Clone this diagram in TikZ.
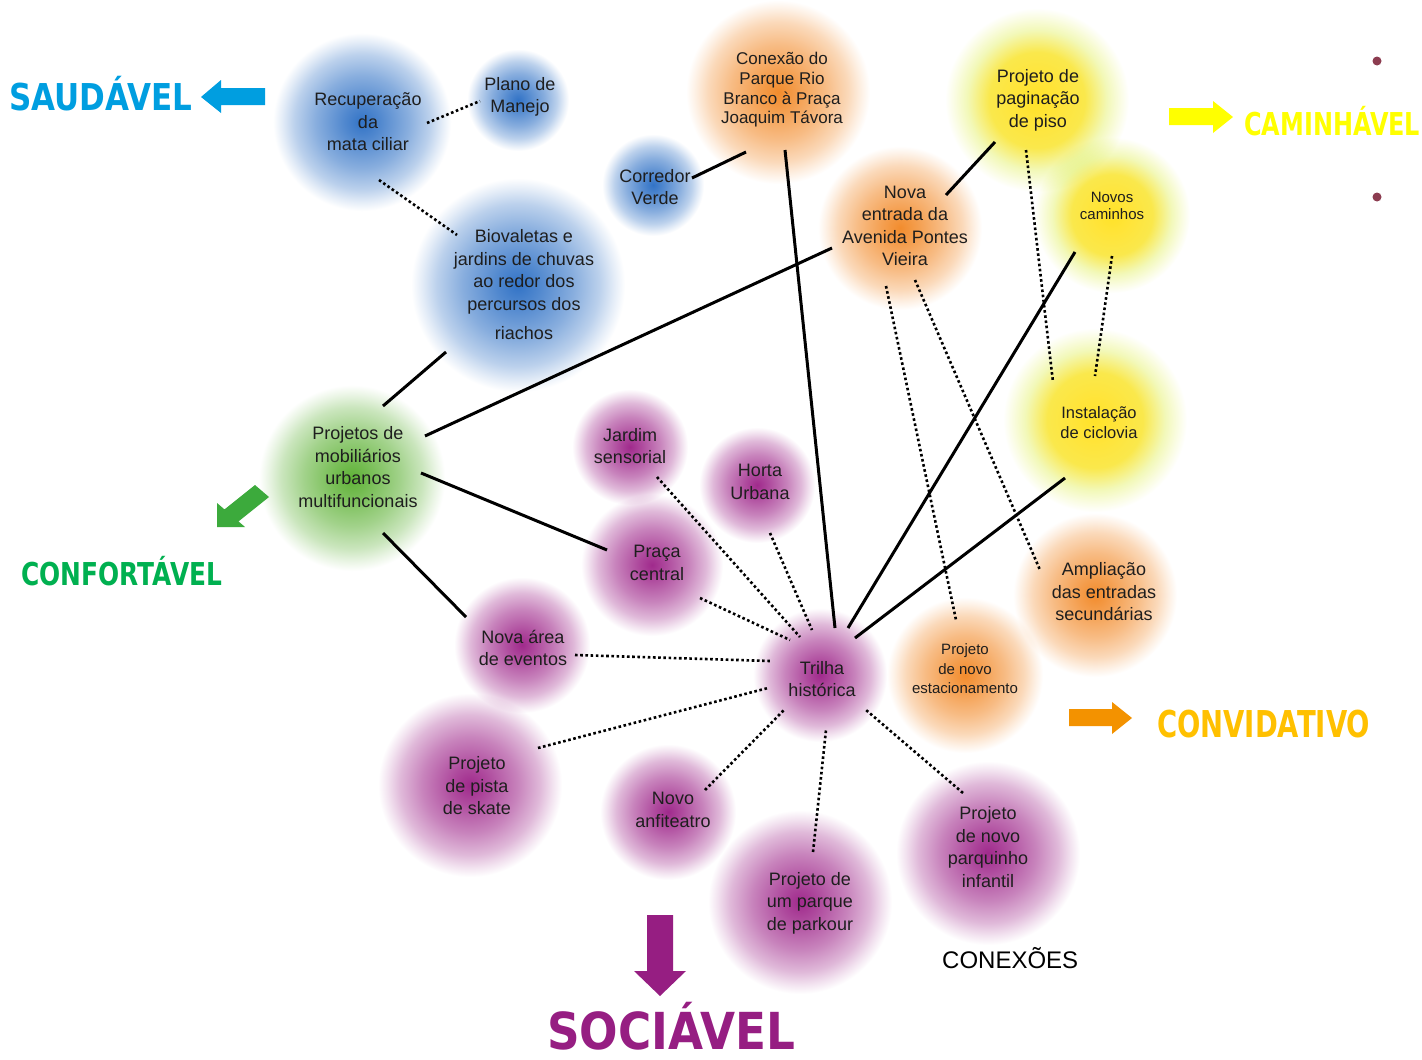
\documentclass[tikz,border=0pt]{standalone}
\usepackage{fontspec}
\usepackage{graphicx}
\setmainfont{Liberation Sans}
\newfontfamily\titlefont{DejaVu Sans}
\usetikzlibrary{calc}
\definecolor{cB}{RGB}{50,115,198}
\definecolor{cG}{RGB}{95,178,55}
\definecolor{cO}{RGB}{242,140,45}
\definecolor{cY}{RGB}{255,226,40}
\definecolor{cYe}{RGB}{238,246,160}
\definecolor{cP}{RGB}{160,42,140}
\definecolor{txt}{RGB}{30,30,30}
\definecolor{tBlue}{RGB}{0,158,224}
\definecolor{tYellow}{RGB}{255,255,0}
\definecolor{tGreen}{RGB}{0,176,80}
\definecolor{aGreen}{RGB}{60,170,60}
\definecolor{tOrange}{RGB}{255,192,0}
\definecolor{aOrange}{RGB}{243,146,0}
\definecolor{tPurple}{RGB}{150,30,130}
\definecolor{dotc}{RGB}{140,60,80}
\pgfdeclareradialshading{blobB}{\pgfpoint{0bp}{0bp}}{color(0bp)=(cB); color(5bp)=(cB!85!white); color(13bp)=(cB!58!white); color(19bp)=(cB!33!white); color(22.5bp)=(cB!13!white); color(25bp)=(white); color(50bp)=(white)}
\pgfdeclareradialshading{blobG}{\pgfpoint{0bp}{0bp}}{color(0bp)=(cG); color(5bp)=(cG!85!white); color(13bp)=(cG!58!white); color(19bp)=(cG!33!white); color(22.5bp)=(cG!13!white); color(25bp)=(white); color(50bp)=(white)}
\pgfdeclareradialshading{blobO}{\pgfpoint{0bp}{0bp}}{color(0bp)=(cO); color(5bp)=(cO!85!white); color(13bp)=(cO!58!white); color(19bp)=(cO!33!white); color(22.5bp)=(cO!13!white); color(25bp)=(white); color(50bp)=(white)}
\pgfdeclareradialshading{blobY}{\pgfpoint{0bp}{0bp}}{color(0bp)=(cY); color(6bp)=(cY!92!white); color(13bp)=(cY!70!cYe); color(19bp)=(cYe!75!white); color(22.5bp)=(cYe!30!white); color(25bp)=(white); color(50bp)=(white)}
\pgfdeclareradialshading{blobP}{\pgfpoint{0bp}{0bp}}{color(0bp)=(cP); color(5bp)=(cP!85!white); color(13bp)=(cP!58!white); color(19bp)=(cP!33!white); color(22.5bp)=(cP!13!white); color(25bp)=(white); color(50bp)=(white)}
\tikzset{
  lbl/.style={align=center, text=txt, inner sep=0pt, font=\fontsize{18}{22.5}\selectfont},
  conn/.style={draw=black, line width=3pt},
  dotline/.style={draw=black, line width=2.6pt, dash pattern=on 2.6pt off 2.6pt},
  ttl/.style={inner sep=0pt, anchor=base west},
}
\begin{document}
\begin{tikzpicture}[x=1pt,y=-1pt]
\useasboundingbox (0,0) rectangle (1422,1060);
\fill[white] (0,0) rectangle (1422,1060);
% ---------- blobs ----------
\begin{scope}[blend mode=multiply]
\shade[shading=blobB] (362,122) circle (89pt);
\shade[shading=blobB] (518,100) circle (51pt);
\shade[shading=blobB] (653,185) circle (51pt);
\shade[shading=blobB] (518,285) circle (107pt);
\shade[shading=blobG] (352,478) circle (93pt);
\shade[shading=blobO] (778,92) circle (92pt);
\shade[shading=blobO] (900,228) circle (82pt);
\shade[shading=blobO] (965,675) circle (78pt);
\shade[shading=blobO] (1095,595) circle (82pt);
\shade[shading=blobY] (1037,100) circle (92pt);
\shade[shading=blobY] (1112,215) circle (78pt);
\shade[shading=blobY] (1095,420) circle (92pt);
\shade[shading=blobP] (630,447) circle (58pt);
\shade[shading=blobP] (757,485) circle (58pt);
\shade[shading=blobP] (652,565) circle (71pt);
\shade[shading=blobP] (522,645) circle (68pt);
\shade[shading=blobP] (820,675) circle (67pt);
\shade[shading=blobP] (470,785) circle (92pt);
\shade[shading=blobP] (668,812) circle (68pt);
\shade[shading=blobP] (800,902) circle (92pt);
\shade[shading=blobP] (988,853) circle (92pt);
\end{scope}
% ---------- labels ----------
\node[lbl] (b1) at (368,122) {Recuperação\\da\\mata ciliar};
\node[lbl] (b2) at (520,97) {Plano de\\Manejo};
\node[lbl] (b3) at (655,187) {Corredor\\Verde};
\node[lbl] (b4) at (524,285) {Biovaletas e\\jardins de chuvas\\ao redor dos\\percursos dos\\[7pt]riachos};
\node[lbl] (g1) at (358,467) {Projetos de\\mobiliários\\urbanos\\multifuncionais};
\node[lbl, font=\fontsize{17}{19.7}\selectfont] (o1) at (782,90) {Conexão do\\Parque Rio\\Branco à Praça\\Joaquim Távora};
\node[lbl] (o2) at (905,226) {Nova\\entrada da\\Avenida Pontes\\Vieira};
\node[lbl, font=\fontsize{15}{19.5}\selectfont] (o3) at (965,669) {Projeto\\de novo\\estacionamento};
\node[lbl] (o4) at (1104,592) {Ampliação\\das entradas\\secundárias};
\node[lbl] (y1) at (1038,100) {Projeto de\\paginação\\de piso};
\node[lbl, font=\fontsize{15}{17}\selectfont] (y2) at (1112,206) {Novos\\caminhos};
\node[lbl, font=\fontsize{16.5}{20}\selectfont] (y3) at (1099,423) {Instalação\\de ciclovia};
\node[lbl] (p1) at (630,446) {Jardim\\sensorial};
\node[lbl] (p2) at (760,482) {Horta\\Urbana};
\node[lbl] (p3) at (657,563) {Praça\\central};
\node[lbl] (p4) at (523,648) {Nova área\\de eventos};
\node[lbl] (p5) at (822,679) {Trilha\\histórica};
\node[lbl] (p6) at (477,786) {Projeto\\de pista\\de skate};
\node[lbl] (p7) at (673,810) {Novo\\anfiteatro};
\node[lbl] (p8) at (810,903) {Projeto de\\um parque\\de parkour};
\node[lbl] (p9) at (988,847) {Projeto\\de novo\\parquinho\\infantil};
% ---------- connector end points ----------
\coordinate (o1-b3a) at (746,152); \coordinate (o1-b3b) at (692,178);
\coordinate (o1-p5a) at (785,150); \coordinate (o1-p5b) at (835,628);
\coordinate (y1-o2a) at (995,142); \coordinate (y1-o2b) at (946,195);
\coordinate (o2-g1a) at (832,248); \coordinate (o2-g1b) at (425,436);
\coordinate (b4-g1a) at (446,352); \coordinate (b4-g1b) at (383,406);
\coordinate (g1-p3a) at (421,473); \coordinate (g1-p3b) at (607,550);
\coordinate (g1-p4a) at (383,533); \coordinate (g1-p4b) at (466,617);
\coordinate (y2-p5a) at (1075,252); \coordinate (y2-p5b) at (848,628);
\coordinate (y3-p5a) at (1065,478); \coordinate (y3-p5b) at (855,638);
\coordinate (b1-b2a) at (427,123); \coordinate (b1-b2b) at (480,101);
\coordinate (b1-b4a) at (379,180); \coordinate (b1-b4b) at (457,235);
\coordinate (y1-y3a) at (1026,150); \coordinate (y1-y3b) at (1053,382);
\coordinate (y2-y3a) at (1112,256); \coordinate (y2-y3b) at (1095,376);
\coordinate (o2-o3a) at (886,286); \coordinate (o2-o3b) at (956,620);
\coordinate (o2-o4a) at (915,280); \coordinate (o2-o4b) at (1040,570);
\coordinate (p1-p5a) at (657,477); \coordinate (p1-p5b) at (800,637);
\coordinate (p2-p5a) at (770,533); \coordinate (p2-p5b) at (812,630);
\coordinate (p3-p5a) at (700,598); \coordinate (p3-p5b) at (790,640);
\coordinate (p4-p5a) at (575,655); \coordinate (p4-p5b) at (770,661);
\coordinate (p6-p5a) at (538,748); \coordinate (p6-p5b) at (768,688);
\coordinate (p7-p5a) at (705,790); \coordinate (p7-p5b) at (784,710);
\coordinate (p8-p5a) at (813,852); \coordinate (p8-p5b) at (826,730);
\coordinate (p9-p5a) at (963,793); \coordinate (p9-p5b) at (866,710);
% ---------- solid connectors ----------
\draw[conn] (o1-b3a) -- (o1-b3b);
\draw[conn] (o1-p5a) -- (o1-p5b);
\draw[conn] (y1-o2a) -- (y1-o2b);
\draw[conn] (o2-g1a) -- (o2-g1b);
\draw[conn] (b4-g1a) -- (b4-g1b);
\draw[conn] (g1-p3a) -- (g1-p3b);
\draw[conn] (g1-p4a) -- (g1-p4b);
\draw[conn] (y2-p5a) -- (y2-p5b);
\draw[conn] (y3-p5a) -- (y3-p5b);
% ---------- dotted connectors ----------
\draw[dotline] (b1-b2a) -- (b1-b2b);
\draw[dotline] (b1-b4a) -- (b1-b4b);
\draw[dotline] (y1-y3a) -- (y1-y3b);
\draw[dotline] (y2-y3a) -- (y2-y3b);
\draw[dotline] (o2-o3a) -- (o2-o3b);
\draw[dotline] (o2-o4a) -- (o2-o4b);
\draw[dotline] (p1-p5a) -- (p1-p5b);
\draw[dotline] (p2-p5a) -- (p2-p5b);
\draw[dotline] (p3-p5a) -- (p3-p5b);
\draw[dotline] (p4-p5a) -- (p4-p5b);
\draw[dotline] (p6-p5a) -- (p6-p5b);
\draw[dotline] (p7-p5a) -- (p7-p5b);
\draw[dotline] (p8-p5a) -- (p8-p5b);
\draw[dotline] (p9-p5a) -- (p9-p5b);
% ---------- arrows ----------
\fill[tBlue] (265,88) -- (221,88) -- (221,80) -- (201,97) -- (221,113) -- (221,105) -- (265,105) -- cycle;
\fill[tYellow] (1169,108) -- (1213,108) -- (1213,101) -- (1233,117) -- (1213,133) -- (1213,125) -- (1169,125) -- cycle;
\fill[aGreen] (255,485) -- (269,497) -- (238.5,521.4) -- (245,527) -- (217,527) -- (217,503) -- (224.5,509.4) -- cycle;
\fill[aOrange] (1069,709) -- (1112,709) -- (1112,702) -- (1132,718) -- (1112,734) -- (1112,726) -- (1069,726) -- cycle;
\fill[tPurple] (647,915) -- (673,915) -- (673,971) -- (686,971) -- (660,996) -- (634,971) -- (647,971) -- cycle;
\fill[dotc] (1377,61) circle (4.5pt);
\fill[dotc] (1377,197) circle (4.5pt);
% ---------- titles ----------
\node[ttl, text=tBlue] (saudavel) at (9,110) {\resizebox{183pt}{\height}{\titlefont\fontsize{37}{40}\selectfont\bfseries SAUDÁVEL}};
\node[ttl, text=tYellow] (caminhavel) at (1244,135) {\resizebox{176pt}{\height}{\titlefont\fontsize{31.5}{34}\selectfont\bfseries CAMINHÁVEL}};
\node[ttl, text=tGreen] (confortavel) at (21,585) {\resizebox{201pt}{\height}{\titlefont\fontsize{31.5}{34}\selectfont\bfseries CONFORTÁVEL}};
\node[ttl, text=tOrange] (convidativo) at (1157,737) {\resizebox{213pt}{\height}{\titlefont\fontsize{37}{40}\selectfont\bfseries CONVIDATIVO}};
\node[ttl, text=tPurple] (sociavel) at (547,1049) {\resizebox{248pt}{\height}{\titlefont\fontsize{51}{54}\selectfont\bfseries SOCIÁVEL}};
\node[ttl, text=black] (conexoes) at (942,968) {\fontsize{24}{26}\selectfont CONEXÕES};
\end{tikzpicture}
\end{document}
